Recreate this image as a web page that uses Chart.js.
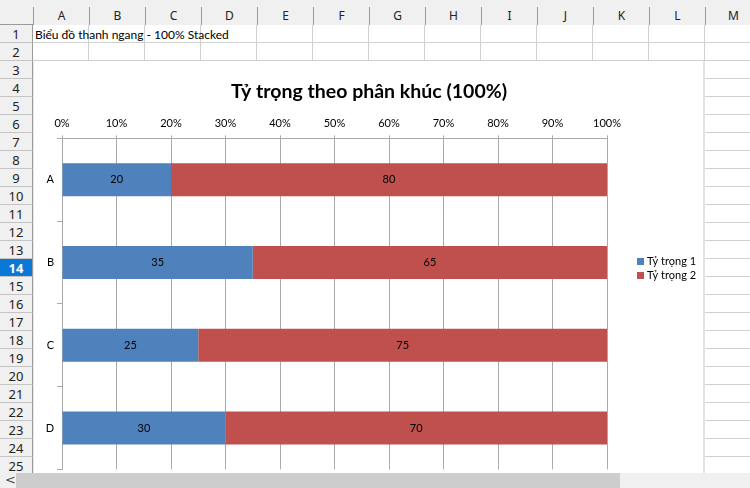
<!DOCTYPE html>
<html>
<head>
<meta charset="utf-8">
<script src="https://cdn.jsdelivr.net/npm/chart.js@4.4.0/dist/chart.umd.min.js"></script>
<style>
  body { margin: 0; width: 750px; height: 488px; overflow: hidden; background: #fff; position: relative; font-family: "Noto Sans", sans-serif; }
  .hd { position: absolute; background: #f0f0f0; color: #222; font-size: 12px; text-align: center; box-sizing: border-box; }
  .ln { position: absolute; background: #d0d0d0; }
  #frame { position: absolute; left: 33px; top: 61px; width: 672px; height: 412px; background: #fff; box-sizing: border-box; border-right: 2px solid #e4e4e4; border-left: 1px solid #e8e8e8; }
  #chart { position: absolute; left: 33px; top: 61px; }
  #cellA1 { position: absolute; left: 35px; top: 26px; height: 17px; line-height: 17px; font-family: Lato, sans-serif; font-size: 12px; color: #000; white-space: nowrap; }
  #scroll { position: absolute; left: 0; top: 473px; width: 750px; height: 15px; background: #f0f0f0; }
  #thumb { position: absolute; left: 16px; top: 0; width: 604px; height: 15px; background: #cdcdcd; }
  #arrow { position: absolute; left: 5px; top: -1px; font-size: 13px; color: #444; font-family: "DejaVu Sans", sans-serif; }
</style>
</head>
<body>
<div id="sheet"></div>
<div id="cellA1">Biểu đồ thanh ngang - 100% Stacked</div>
<div id="frame"></div>
<canvas id="chart" width="672" height="418"></canvas>
<div id="scroll"><div id="thumb"></div><div id="arrow">&lt;</div></div>
<script>
// sheet
var sheetColumns = ['A', 'B', 'C', 'D', 'E', 'F', 'G', 'H', 'I', 'J', 'K', 'L', 'M'];
var sheetRowCount = 25;
var activeRow = 14;

// chart data
var categories = ['A', 'B', 'C', 'D'];
var share1 = [20, 35, 25, 30];
var share2 = [80, 65, 75, 70];
var seriesNames = ['Tỷ trọng 1', 'Tỷ trọng 2'];
var seriesColors = ['#4f81bd', '#c0504d'];
var chartTitle = 'Tỷ trọng theo phân khúc (100%)';

var sheet = document.getElementById('sheet');
function addDiv(cls, css, text) {
  var d = document.createElement('div');
  d.className = cls;
  d.style.cssText = css;
  if (text) d.textContent = text;
  sheet.appendChild(d);
  return d;
}

// grid lines of the cells
for (var r = 1; r <= sheetRowCount; r++) {
  addDiv('ln', 'left:33px;top:' + (25 + 18 * r - 1) + 'px;width:717px;height:1px;');
}
for (var c = 1; c <= sheetColumns.length; c++) {
  addDiv('ln', 'left:' + (33 + 56 * c - 1) + 'px;top:25px;width:1px;height:450px;');
}

// column header
addDiv('hd', 'left:0;top:0;width:750px;height:25px;border-bottom:1px solid #9a9a9a;');
sheetColumns.forEach(function(name, i) {
  addDiv('hd', 'left:' + (33 + 56 * i) + 'px;top:7px;width:56px;height:18px;line-height:17px;border-left:1px solid #9a9a9a;', name);
});

// row header
addDiv('hd', 'left:0;top:25px;width:33px;height:450px;border-right:1px solid #9a9a9a;');
for (var r = 1; r <= sheetRowCount; r++) {
  var css = 'left:0;top:' + (25 + 18 * (r - 1)) + 'px;width:33px;height:18px;line-height:18px;border-bottom:1px solid #c4c4c4;border-right:1px solid #9a9a9a;font-size:13px;';
  if (r === activeRow) css += 'background:#0a78d7;color:#fff;font-weight:bold;';
  addDiv('hd', css, String(r));
}

var chartFont = 'Lato, sans-serif';
Chart.defaults.font.family = chartFont;
Chart.defaults.color = '#000';

// numbers in the middle of each bar piece
var barValueLabels = {
  id: 'barValueLabels',
  afterDatasetsDraw: function(chart) {
    var ctx = chart.ctx;
    ctx.save();
    ctx.font = '11px ' + chartFont;
    ctx.fillStyle = '#000';
    ctx.textAlign = 'center';
    ctx.textBaseline = 'middle';
    chart.data.datasets.forEach(function(ds, i) {
      chart.getDatasetMeta(i).data.forEach(function(bar, j) {
        var p = bar.getProps(['x', 'y', 'base'], true);
        ctx.fillText(ds.data[j], (p.x + p.base) / 2, p.y);
      });
    });
    ctx.restore();
  }
};

// legend on the right, as its own layout box so the title stays centred
var sideLegend = {
  id: 'sideLegend',
  beforeInit: function(chart) {
    var box = {
      position: 'right',
      weight: 0,
      fullSize: false,
      options: {},
      isHorizontal: function() { return false; },
      update: function(maxWidth, maxHeight) {
        this.width = 98;
        this.height = maxHeight;
      },
      draw: function() {
        var ctx = chart.ctx;
        ctx.save();
        ctx.font = '11px ' + chartFont;
        ctx.textAlign = 'left';
        ctx.textBaseline = 'middle';
        chart.data.datasets.forEach(function(ds, i) {
          var y = 200.5 + i * 14;
          ctx.fillStyle = ds.backgroundColor;
          ctx.fillRect(box.left + 30, y - 3.5, 7, 7);
          ctx.fillStyle = '#000';
          ctx.fillText(ds.label, box.left + 40, y);
        });
        ctx.restore();
      }
    };
    Chart.layouts.addBox(chart, box);
  }
};

new Chart(document.getElementById('chart').getContext('2d'), {
  type: 'bar',
  data: {
    labels: categories,
    datasets: [
      { label: seriesNames[0], data: share1, backgroundColor: seriesColors[0], barPercentage: 0.4, categoryPercentage: 1 },
      { label: seriesNames[1], data: share2, backgroundColor: seriesColors[1], barPercentage: 0.4, categoryPercentage: 1 }
    ]
  },
  plugins: [barValueLabels, sideLegend],
  options: {
    indexAxis: 'y',
    responsive: false,
    animation: false,
    layout: { padding: { left: 0, right: 0, top: 0, bottom: 5 } },
    plugins: {
      legend: { display: false },
      tooltip: { enabled: false },
      title: {
        display: true,
        text: chartTitle,
        color: '#000',
        font: { size: 19.5, weight: 'bold' },
        padding: { top: 19, bottom: 0 }
      }
    },
    scales: {
      x: {
        position: 'top',
        stacked: true,
        min: 0,
        max: 100,
        ticks: {
          stepSize: 10,
          padding: 5,
          font: { size: 11 },
          callback: function(v) { return v + '%'; }
        },
        grid: { color: '#aaaaaa', tickLength: 3 },
        border: { color: '#aaaaaa' },
        afterFit: function(s) { s.height = 35; }
      },
      y: {
        stacked: true,
        ticks: { padding: 3, font: { size: 11 } },
        grid: { drawOnChartArea: false, tickLength: 5, color: '#aaaaaa' },
        border: { color: '#aaaaaa' },
        afterFit: function(s) { s.width = 29; }
      }
    }
  }
});
</script>
</body>
</html>
